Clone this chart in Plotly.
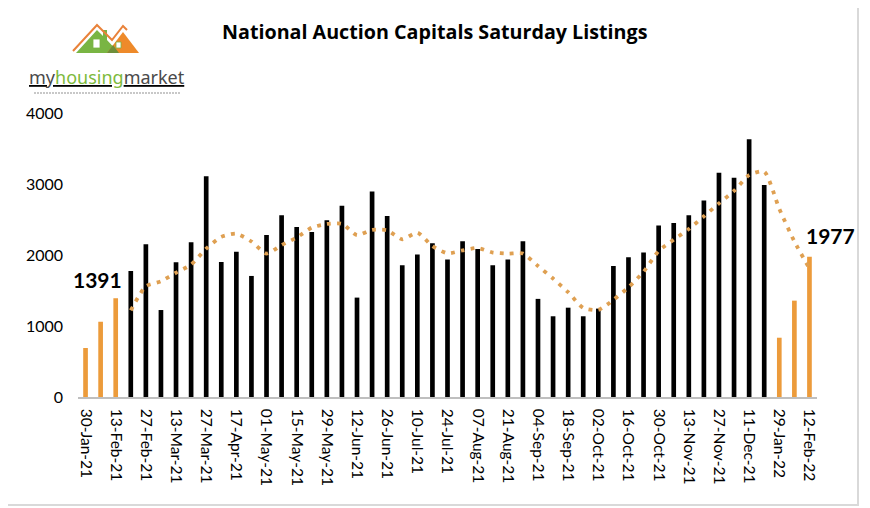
import plotly.graph_objects as go

# ---------------- data ----------------
weeks = [
    "30-Jan-21", "06-Feb-21", "13-Feb-21", "20-Feb-21", "27-Feb-21", "06-Mar-21",
    "13-Mar-21", "20-Mar-21", "27-Mar-21", "10-Apr-21", "17-Apr-21", "24-Apr-21",
    "01-May-21", "08-May-21", "15-May-21", "22-May-21", "29-May-21", "05-Jun-21",
    "12-Jun-21", "19-Jun-21", "26-Jun-21", "03-Jul-21", "10-Jul-21", "17-Jul-21",
    "24-Jul-21", "31-Jul-21", "07-Aug-21", "14-Aug-21", "21-Aug-21", "28-Aug-21",
    "04-Sep-21", "11-Sep-21", "18-Sep-21", "25-Sep-21", "02-Oct-21", "09-Oct-21",
    "16-Oct-21", "23-Oct-21", "30-Oct-21", "06-Nov-21", "13-Nov-21", "20-Nov-21",
    "27-Nov-21", "04-Dec-21", "11-Dec-21", "18-Dec-21", "29-Jan-22", "05-Feb-22",
    "12-Feb-22",
]

listings = [
    690, 1060, 1391, 1775, 2150, 1225,
    1897, 2180, 3110, 1900, 2045, 1705,
    2280, 2560, 2395, 2325, 2490, 2695,
    1400, 2893, 2548, 1855, 2006, 2165,
    1937, 2193, 2085, 1855, 1937, 2193,
    1382, 1137, 1258, 1137, 1245, 1845,
    1968, 2034, 2414, 2452, 2560, 2768,
    3157, 3088, 3632, 2985, 835, 1357,
    1977,
]

# weeks shown in orange (same early-year weeks compared across 2021 and 2022)
compare_weeks = ["30-Jan-21", "06-Feb-21", "13-Feb-21", "29-Jan-22", "05-Feb-22", "12-Feb-22"]

# dotted trend line (no value for the first three weeks)
trend = [
    None, None, None, 1220, 1560, 1630,
    1750, 1865, 2090, 2255, 2300, 2190,
    2020, 2140, 2245, 2385, 2437, 2440,
    2280, 2355, 2348, 2221, 2315, 2125,
    2024, 2065, 2099, 2035, 2020, 2020,
    1845, 1668, 1476, 1255, 1226, 1368,
    1545, 1763, 2057, 2216, 2365, 2545,
    2727, 2902, 3125, 3175, 2650, 2190,
    1810,
]

tick_labels = weeks[::2]
y_ticks = [0, 1000, 2000, 3000, 4000]

label_first = ("13-Feb-21", 1391)
label_last = ("12-Feb-22", 1977)

# ---------------- style ----------------
ORANGE = "#EC9B3B"
DOT = "#DFA052"
BLACK = "#000000"
FONT = "Lato"

OFF = 8                      # page body margin around the plot div
W, H = 870 - OFF, 508 - OFF
ML, MT, PW, PH = 70, 105, 739, 284
MR, MB = W - ML - PW, H - MT - PH


def px(x):
    """page pixel x -> paper x"""
    return (x - OFF - ML) / PW


def py(y):
    """page pixel y -> paper y"""
    return (MT + PH + OFF - y) / PH


bar_colors = [ORANGE if w in compare_weeks else BLACK for w in weeks]

fig = go.Figure()
fig.add_trace(go.Bar(
    x=weeks, y=listings, marker=dict(color=bar_colors, line=dict(width=0)),
    width=0.31, showlegend=False, hoverinfo="x+y",
))
fig.add_trace(go.Scatter(
    x=weeks, y=trend, mode="lines",
    line=dict(color=DOT, width=3.8, dash="3.8px,6.2px", shape="spline", smoothing=0.6),
    showlegend=False, hoverinfo="skip",
))

fig.update_layout(
    width=W, height=H,
    margin=dict(l=ML, r=MR, t=MT, b=MB, pad=0),
    paper_bgcolor="white", plot_bgcolor="white",
    font=dict(family=FONT, color="#000000", size=16),
    xaxis=dict(
        type="category", tickmode="array", tickvals=tick_labels, ticktext=tick_labels,
        tickangle=90, ticks="", showgrid=False, zeroline=False,
        showline=True, linecolor="#BFBFBF", linewidth=1.5,
        tickfont=dict(family=FONT, size=15.5, color="#000000"),
        ticklabelstandoff=7,
        range=[-0.5, len(weeks) - 0.5],
    ),
    yaxis=dict(
        range=[0, 4000], tickmode="array", tickvals=y_ticks,
        ticktext=[str(v) for v in y_ticks],
        showgrid=False, zeroline=False, showline=False, ticks="",
        tickfont=dict(family=FONT, size=16, color="#000000"),
        ticklabelstandoff=14,
    ),
)

# title
fig.add_annotation(
    text="<b>National Auction Capitals Saturday Listings</b>",
    xref="paper", yref="paper", x=px(434.5), y=py(31.5),
    showarrow=False, font=dict(family="Open Sans", size=19.7, color="#000000"),
    xanchor="center", yanchor="middle",
)

# value labels
fig.add_annotation(
    text="<b>%d</b>" % label_first[1], x=label_first[0], y=label_first[1],
    xref="x", yref="y", showarrow=False, xanchor="center", yanchor="middle",
    xshift=-18, yshift=19, font=dict(family=FONT, size=21, color="#000000"),
)
fig.add_annotation(
    text="<b>%d</b>" % label_last[1], x=label_last[0], y=label_last[1],
    xref="x", yref="y", showarrow=False, xanchor="center", yanchor="middle",
    xshift=21, yshift=21, font=dict(family=FONT, size=21, color="#000000"),
)

# outer frame
fig.add_shape(type="rect", xref="paper", yref="paper",
              x0=px(3), x1=px(858), y0=py(505), y1=py(3),
              line=dict(color="#D9D9D9", width=2), fillcolor="rgba(0,0,0,0)", layer="below")


# logo (decorative house icon)
def path(points):
    return "M " + " L ".join("%f,%f" % (px(a), py(b)) for a, b in points) + " Z"


fig.add_shape(type="path", xref="paper", yref="paper",
              path=path([(76, 53), (97, 30), (103, 36), (103, 30), (107, 30), (107, 40), (119, 53)]),
              fillcolor="#79B543", line=dict(width=0))
fig.add_shape(type="path", xref="paper", yref="paper",
              path=path([(107, 53), (123, 32), (139, 53)]),
              fillcolor="#EE8A2A", line=dict(width=0))
fig.add_shape(type="path", xref="paper", yref="paper",
              path=path([(107, 53), (113, 45), (119, 53)]),
              fillcolor="#6E8F3A", line=dict(width=0))
fig.add_shape(type="path", xref="paper", yref="paper",
              path="M %f,%f L %f,%f L %f,%f L %f,%f L %f,%f" % (
                  px(73), py(51), px(97), py(25), px(112), py(40), px(123), py(26), px(127), py(30)),
              line=dict(color="#E9823A", width=2))
for (x0, y0, x1, y1) in [(93, 39, 100, 48), (116, 42, 121, 48)]:
    fig.add_shape(type="rect", xref="paper", yref="paper",
                  x0=px(x0), x1=px(x1), y0=py(y1), y1=py(y0),
                  fillcolor="white", line=dict(color="#79B543", width=0.8))
fig.add_annotation(
    text="<u><span style='color:#4A4A4A'>my</span><span style='color:#7DBA3C'>housing</span>"
         "<span style='color:#4A4A4A'>market</span></u>",
    xref="paper", yref="paper", x=px(107), y=py(77), showarrow=False,
    xanchor="center", yanchor="middle", font=dict(family="Noto Sans", size=18),
)
fig.add_shape(type="line", xref="paper", yref="paper",
              x0=px(34), x1=px(180), y0=py(93), y1=py(93),
              line=dict(color="#C8C8C8", width=2, dash="2px,1px"))

fig.write_html("out.html")
